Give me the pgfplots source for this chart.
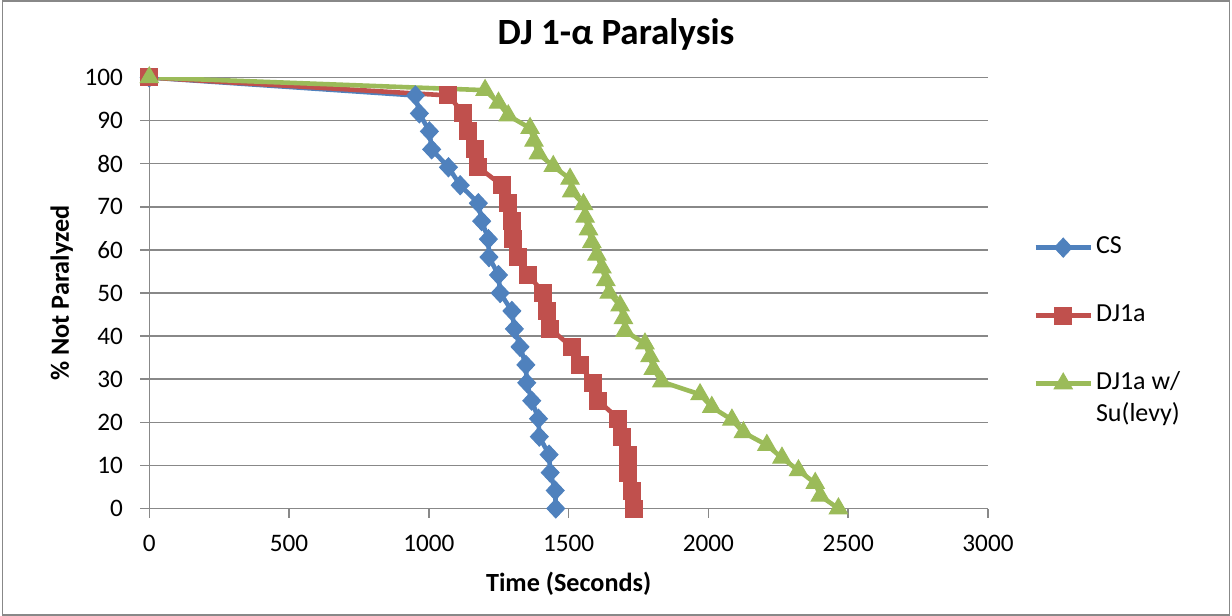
\documentclass[border=0pt]{standalone}
\usepackage{pgfplots}
\pgfplotsset{compat=1.18}
\usepackage{fontspec}
\setmainfont{Carlito}
\definecolor{csblue}{HTML}{4F81BD}
\definecolor{djred}{HTML}{C0504D}
\definecolor{sugreen}{HTML}{9BBB59}
\definecolor{axgray}{HTML}{888888}
\begin{document}
\begin{tikzpicture}
\useasboundingbox (0,0) rectangle (616pt,308pt);
\draw[axgray, line width=0.75pt] (1.2pt,0.6pt) rectangle (614.8pt,307.4pt);
\begin{axis}[
  at={(74.65pt,53.75pt)}, anchor=south west,
  scale only axis, width=419.35pt, height=215.5pt,
  xmin=0, xmax=3000, ymin=0, ymax=100,
  xtick={0,500,...,3000}, ytick={0,10,...,100},
  axis x line*=bottom, axis y line*=left,
  axis line style={draw=axgray, line width=0.75pt, -},
  ymajorgrids, grid style={draw=axgray, line width=0.75pt},
  tick align=outside, major tick length=4.5pt,
  tick style={draw=axgray, line width=0.75pt},
  /pgf/number format/assume math mode=true,
  /pgf/number format/1000 sep={},
  ticklabel style={font=\fontsize{12.6}{15}\selectfont},
  yticklabel style={anchor=east, inner sep=0pt, xshift=-8.5pt},
  xticklabel style={anchor=north, inner sep=0pt, yshift=-8.75pt},
  title={\textbf{DJ 1-α Paralysis}},
  title style={font=\fontsize{18.5}{22}\selectfont, at={(axis description cs:0.5565,1.048)}, anchor=base},
  xlabel={\textbf{Time (Seconds)}},
  xlabel style={font=\fontsize{13.1}{15.5}\selectfont, at={(axis description cs:0.5,-0.193)}, anchor=base},
  ylabel={\textbf{\% Not Paralyzed}},
  ylabel style={font=\fontsize{13.1}{15.5}\selectfont, at={(axis description cs:-0.1044,0.5)}, anchor=center},
  legend cell align=left,
  legend style={draw=none, fill=none, at={(axis description cs:1.0537,0.634)}, anchor=north west,
    inner sep=0pt, row sep=22pt, column sep=1.5pt,
    font=\fontsize{13}{16}\selectfont,
    nodes={inner sep=0pt, text height=9pt, text depth=3pt}},
  legend image code/.code={\draw[mark repeat=2,mark phase=2] plot coordinates {(0pt,0pt) (13.75pt,0pt) (27.5pt,0pt)};},
  every axis plot/.append style={line width=2.3pt},
]
\addplot[color=csblue, mark=diamond*, mark size=4.75pt, mark options={solid, xscale=1.25, line width=0.5pt}] coordinates {
(0,100) (952,95.83) (966,91.67) (1002,87.5) (1010,83.33) (1070,79.17) (1112,75)
(1177,70.83) (1189,66.67) (1213,62.5) (1215,58.33) (1249,54.17) (1255,50)
(1297,45.83) (1306,41.67) (1326,37.5) (1347,33.33) (1350,29.17) (1368,25)
(1392,20.83) (1395,16.67) (1430,12.5) (1434,8.33) (1452,4.17) (1454,0)
};
\addlegendentry{CS}
\addplot[color=djred, mark=square*, mark size=4.25pt, mark options={solid, line width=0.5pt}] coordinates {
(0,100) (1070,95.83) (1123,91.67) (1141,87.5) (1165,83.33) (1177,79.17) (1261,75)
(1284,70.83) (1297,66.67) (1302,62.5) (1320,58.33) (1356,54.17) (1410,50)
(1422,45.83) (1434,41.67) (1511,37.5) (1541,33.33) (1586,29.17) (1606,25)
(1678,20.83) (1690,16.67) (1714,12.5) (1714,8.33) (1728,4.17) (1734,0)
};
\addlegendentry{DJ1a}
\addplot[color=sugreen, mark=triangle*, mark size=5.25pt, mark options={solid, line width=0.5pt}] coordinates {
(0,100) (1201,97.06) (1249,94.12) (1284,91.18) (1362,88.24) (1376,85.29) (1392,82.35)
(1445,79.41) (1505,76.47) (1511,73.53) (1553,70.59) (1559,67.65) (1571,64.71)
(1583,61.76) (1601,58.82) (1619,55.88) (1633,52.94) (1645,50) (1684,47.06)
(1696,44.12) (1702,41.18) (1773,38.24) (1791,35.29) (1803,32.35) (1833,29.41)
(1970,26.47) (2012,23.53) (2084,20.59) (2125,17.65) (2209,14.71) (2263,11.76)
(2322,8.82) (2382,5.88) (2400,2.94) (2465,0)
};
\addlegendentry{{\begin{tabular}[t]{@{}l@{}}DJ1a w/\\Su(levy)\end{tabular}}}
\end{axis}
\end{tikzpicture}
\end{document}
